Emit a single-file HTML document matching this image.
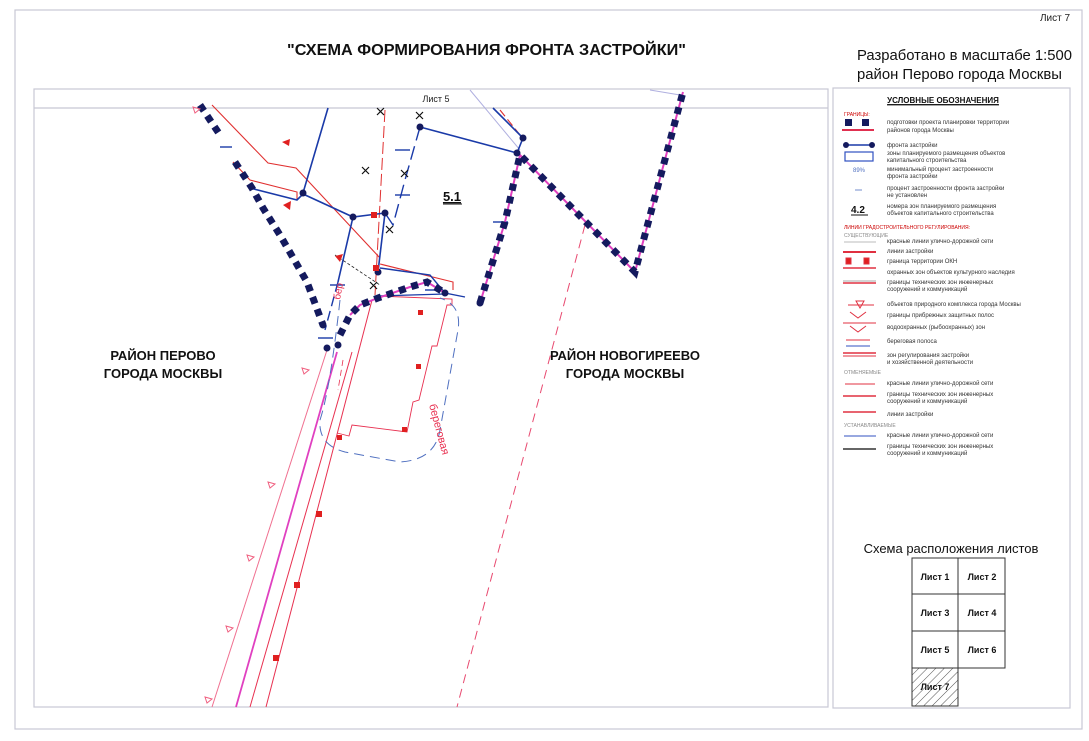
<!DOCTYPE html>
<html><head><meta charset="utf-8"><style>
html,body{margin:0;padding:0;background:#fff}
svg{display:block}
text{font-family:"Liberation Sans",sans-serif}
</style></head><body>
<svg width="1089" height="741" viewBox="0 0 1089 741" xmlns="http://www.w3.org/2000/svg">
<defs>
<pattern id="hatch" width="6" height="6" patternUnits="userSpaceOnUse" patternTransform="rotate(45)">
<line x1="0" y1="0" x2="0" y2="6" stroke="#555" stroke-width="1"/>
</pattern>
</defs>
<rect x="0" y="0" width="1089" height="741" fill="#fff"/>
<!-- outer frame -->
<rect x="15" y="10" width="1067" height="719" fill="none" stroke="#c8c8d4" stroke-width="1.2"/>
<!-- map frame -->
<rect x="34" y="89" width="794" height="618" fill="none" stroke="#c8c8d4" stroke-width="1.2"/>
<line x1="34" y1="108" x2="828" y2="108" stroke="#c8c8d4" stroke-width="1.2"/>
<!-- legend frame -->
<rect x="833" y="88" width="237" height="620" fill="none" stroke="#c8c8d4" stroke-width="1.2"/>

<text x="1055" y="21" font-size="10" text-anchor="middle" fill="#222">Лист 7</text>
<text x="287" y="55" font-size="16" font-weight="bold" textLength="399" lengthAdjust="spacingAndGlyphs" fill="#111">"СХЕМА ФОРМИРОВАНИЯ ФРОНТА ЗАСТРОЙКИ"</text>
<text x="857" y="60" font-size="15" textLength="215" lengthAdjust="spacingAndGlyphs" fill="#111">Разработано в масштабе 1:500</text>
<text x="857" y="79" font-size="15" textLength="205" lengthAdjust="spacingAndGlyphs" fill="#111">район Перово города Москвы</text>
<text x="436" y="102" font-size="9" text-anchor="middle" fill="#222">Лист 5</text>

<!-- MAP -->
<g fill="none">
<!-- pink road lines down-left -->
<line x1="327" y1="350" x2="212" y2="707" stroke="#f07090" stroke-width="1"/>
<line x1="337" y1="352" x2="236" y2="707" stroke="#e040c0" stroke-width="1.8"/>
<line x1="352" y1="352" x2="250" y2="707" stroke="#e83050" stroke-width="1"/>
<line x1="372" y1="300" x2="266" y2="707" stroke="#e83050" stroke-width="1"/>
<line x1="343" y1="360" x2="338" y2="390" stroke="#e83050" stroke-width="0.8" stroke-dasharray="6 4"/>
<!-- pink dashed right -->
<line x1="585" y1="225" x2="457" y2="707" stroke="#e84a70" stroke-width="1" stroke-dasharray="9 6"/>
<line x1="470" y1="90" x2="520" y2="150" stroke="#b0b0e0" stroke-width="1"/>
<line x1="650" y1="90" x2="680" y2="95" stroke="#b0b0e0" stroke-width="1"/>

<!-- building outline -->
<path d="M378,296 L452,299 L452,305 L447,305 L437,346 L432,346 L419,400 L413,402 L407,432 L352,425 L349,436 L337,433" stroke="#e83050" stroke-width="0.9"/>
<!-- blue dashed rounded contour -->
<path d="M340,300 Q330,390 320,420 Q318,445 345,452 L400,462 Q435,460 440,430 L458,330 Q462,305 440,298" stroke="#5070c0" stroke-width="1" stroke-dasharray="10 6"/>

<!-- red lines upper -->
<path d="M212,105 L268,163 L296,168 L380,258" stroke="#e03030" stroke-width="1.1"/>
<path d="M380,264 L453,282 L453,290" stroke="#e03030" stroke-width="1.1"/>
<path d="M233,162 L250,180 L297,192 L297,199" stroke="#e03030" stroke-width="1.1"/>
<path d="M500,110 L520,135" stroke="#e03030" stroke-width="1.1" stroke-dasharray="8 4"/>
<line x1="385" y1="110" x2="375" y2="295" stroke="#e03030" stroke-width="1" stroke-dasharray="12 4"/>

<!-- blue lines -->
<path d="M328,108 L303,193" stroke="#1a3aa8" stroke-width="1.6"/>
<path d="M250,188 L297,200 L303,194 L353,217 L385,213" stroke="#1a3aa8" stroke-width="1.6"/>
<path d="M353,217 L338,282" stroke="#1a3aa8" stroke-width="1.6"/>
<path d="M385,213 L378,272" stroke="#1a3aa8" stroke-width="1.6"/>
<path d="M420,127 L517,153 L523,138 L493,108" stroke="#1a3aa8" stroke-width="1.6"/>
<path d="M420,127 L405,180 L393,225 L385,213" stroke="#1a3aa8" stroke-width="1.4" stroke-dasharray="14 6"/>
<path d="M380,268 L430,275 L445,293 L465,297" stroke="#1a3aa8" stroke-width="1.4"/>
<path d="M378,296 L445,294" stroke="#1a3aa8" stroke-width="1.2"/>
<path d="M338,282 L325,330" stroke="#1a3aa8" stroke-width="1.4" stroke-dasharray="10 5"/>
<line x1="220" y1="147" x2="232" y2="147" stroke="#1a3aa8" stroke-width="1.4"/>
<line x1="330" y1="285" x2="345" y2="285" stroke="#1a3aa8" stroke-width="1.4"/>
<line x1="318" y1="338" x2="333" y2="338" stroke="#1a3aa8" stroke-width="1.4"/>
<line x1="493" y1="222" x2="508" y2="222" stroke="#1a3aa8" stroke-width="1.4"/>
<line x1="395" y1="195" x2="410" y2="195" stroke="#1a3aa8" stroke-width="1.4"/>
<line x1="395" y1="150" x2="410" y2="150" stroke="#1a3aa8" stroke-width="1.4"/>
<line x1="425" y1="290" x2="440" y2="290" stroke="#1a3aa8" stroke-width="1.4"/>
<line x1="335" y1="255" x2="380" y2="285" stroke="#222" stroke-width="0.8" stroke-dasharray="3 2"/>

<!-- pink under dotted -->
<path d="M350,315 L360,305 L378,298 L410,287 L427,282 L445,293" stroke="#e040c0" stroke-width="2"/>
<path d="M480,303 L505,222 L520,155 L635,272 L683,92" stroke="#e040c0" stroke-width="2"/>
<!-- navy thick dotted -->
<g stroke="#141a5e" stroke-width="7" stroke-dasharray="7 6">
<path d="M200,105 L220,135"/>
<path d="M235,162 L252,188 L263,208 L280,235 L307,282 L323,325"/>
<path d="M340,335 L350,315 L360,305 L378,298 L410,287 L427,282 L445,293"/>
<path d="M480,303 L505,222 L520,155 L635,272 L683,92"/>
</g>
<!-- node dots -->
<g fill="#141a5e">
<circle cx="303" cy="193" r="3.5"/><circle cx="353" cy="217" r="3.5"/><circle cx="385" cy="213" r="3.5"/>
<circle cx="420" cy="127" r="3.5"/><circle cx="517" cy="153" r="3.5"/><circle cx="523" cy="138" r="3.5"/>
<circle cx="480" cy="303" r="3.5"/><circle cx="378" cy="272" r="3.5"/><circle cx="327" cy="348" r="3.5"/>
<circle cx="323" cy="325" r="3.5"/><circle cx="445" cy="293" r="3.5"/><circle cx="338" cy="345" r="3.5"/>
</g>
<!-- X marks -->
<g stroke="#111" stroke-width="1.2">
<path d="M377,108 l7,7 m0,-7 l-7,7"/><path d="M416,112 l7,7 m0,-7 l-7,7"/>
<path d="M362,167 l7,7 m0,-7 l-7,7"/><path d="M401,170 l7,7 m0,-7 l-7,7"/>
<path d="M386,226 l7,7 m0,-7 l-7,7"/><path d="M370,282 l7,7 m0,-7 l-7,7"/>
</g>
<!-- red marks -->
<g fill="#e02020">
<polygon points="283,205 291,201 290,210"/><polygon points="282,142 290,139 289,146"/>
<polygon points="335,256 343,254 340,262"/>
<rect x="371" y="212" width="6" height="6"/><rect x="373" y="265" width="6" height="6"/>
<rect x="418" y="310" width="5" height="5"/><rect x="416" y="364" width="5" height="5"/>
<rect x="402" y="427" width="5" height="5"/><rect x="337" y="435" width="5" height="5"/>
<rect x="316" y="511" width="6" height="6"/><rect x="294" y="582" width="6" height="6"/><rect x="273" y="655" width="6" height="6"/>
</g>
<g fill="none" stroke="#f06080" stroke-width="1">
<polygon points="268,482 275,484 270,488"/><polygon points="247,555 254,557 249,561"/>
<polygon points="226,626 233,628 228,632"/><polygon points="205,697 212,699 207,703"/>
<polygon points="302,368 309,370 304,374"/><polygon points="193,107 200,109 195,113"/>
</g>
</g>
<text x="429" y="405" font-size="11" fill="#e83050" transform="rotate(75 429 405)">береговая</text>
<text x="340" y="300" font-size="10" fill="#e83050" transform="rotate(-80 340 300)">бер</text>

<text x="452" y="201" font-size="13" font-weight="bold" text-anchor="middle" fill="#111" text-decoration="underline">5.1</text>
<line x1="443" y1="204" x2="462" y2="204" stroke="#111" stroke-width="1"/>
<g font-size="13" font-weight="bold" text-anchor="middle" fill="#111">
<text x="163" y="360">РАЙОН ПЕРОВО</text>
<text x="163" y="378">ГОРОДА МОСКВЫ</text>
<text x="625" y="360">РАЙОН НОВОГИРЕЕВО</text>
<text x="625" y="378">ГОРОДА МОСКВЫ</text>
</g>

<!-- LEGEND -->
<text x="943" y="103" font-size="8" font-weight="bold" text-anchor="middle" fill="#111" text-decoration="underline">УСЛОВНЫЕ ОБОЗНАЧЕНИЯ</text>
<line x1="887" y1="105" x2="999" y2="105" stroke="#111" stroke-width="0.7"/>
<g font-size="6" fill="#333">
<text x="844" y="116" fill="#c00" font-size="5">ГРАНИЦЫ:</text>
<rect x="845" y="119" width="7" height="7" fill="#141a5e"/><rect x="862" y="119" width="7" height="7" fill="#141a5e"/>
<line x1="842" y1="130" x2="874" y2="130" stroke="#e03050" stroke-width="2"/>
<text x="887" y="124">подготовки проекта планировки территории</text>
<text x="887" y="132">районов города Москвы</text>
<line x1="846" y1="145" x2="872" y2="145" stroke="#1a3aa8" stroke-width="1.5"/>
<circle cx="846" cy="145" r="3" fill="#141a5e"/><circle cx="872" cy="145" r="3" fill="#141a5e"/>
<text x="887" y="147">фронта застройки</text>
<rect x="845" y="152" width="28" height="9" fill="none" stroke="#3050c0" stroke-width="1.2"/>
<text x="887" y="155">зоны планируемого размещения объектов</text>
<text x="887" y="162">капитального строительства</text>
<text x="853" y="172" fill="#5070c0">89%</text>
<text x="887" y="171">минимальный процент застроенности</text>
<text x="887" y="178">фронта застройки</text>
<line x1="855" y1="190" x2="862" y2="190" stroke="#5070c0" stroke-width="0.8"/>
<text x="887" y="190">процент застроенности фронта застройки</text>
<text x="887" y="197">не установлен</text>
<text x="851" y="213" font-size="10" font-weight="bold" fill="#111">4.2</text>
<line x1="851" y1="215" x2="868" y2="215" stroke="#111" stroke-width="1"/>
<text x="887" y="208">номера зон планируемого размещения</text>
<text x="887" y="215">объектов капитального строительства</text>
<text x="844" y="229" font-size="5" fill="#c00">ЛИНИИ ГРАДОСТРОИТЕЛЬНОГО РЕГУЛИРОВАНИЯ:</text>
<text x="844" y="237" font-size="5" fill="#888">СУЩЕСТВУЮЩИЕ</text>
<text x="887" y="243">красные линии улично-дорожной сети</text>
<text x="887" y="253">линии застройки</text>
<text x="887" y="263">граница территории ОКН</text>
<text x="887" y="274">охранных зон объектов культурного наследия</text>
<text x="887" y="284">границы технических зон инженерных</text>
<text x="887" y="291">сооружений и коммуникаций</text>
<text x="887" y="306">объектов природного комплекса города Москвы</text>
<text x="887" y="317">границы прибрежных защитных полос</text>
<text x="887" y="329">водоохранных (рыбоохранных) зон</text>
<text x="887" y="343">береговая полоса</text>
<text x="887" y="357">зон регулирования застройки</text>
<text x="887" y="364">и хозяйственной деятельности</text>
<text x="844" y="374" font-size="5" fill="#888">ОТМЕНЯЕМЫЕ</text>
<text x="887" y="385">красные линии улично-дорожной сети</text>
<text x="887" y="396">границы технических зон инженерных</text>
<text x="887" y="403">сооружений и коммуникаций</text>
<text x="887" y="416">линии застройки</text>
<text x="844" y="427" font-size="5" fill="#888">УСТАНАВЛИВАЕМЫЕ</text>
<text x="887" y="437">красные линии улично-дорожной сети</text>
<text x="887" y="448">границы технических зон инженерных</text>
<text x="887" y="455">сооружений и коммуникаций</text>
</g>
<g stroke="#e03040" stroke-width="1" fill="none">
<line x1="844" y1="242" x2="876" y2="242" stroke="#bbb"/>
<line x1="843" y1="252" x2="876" y2="252" stroke-width="2"/>
<rect x="846" y="258" width="5" height="6" fill="#e02020"/><rect x="864" y="258" width="5" height="6" fill="#e02020"/>
<line x1="843" y1="268" x2="876" y2="268" stroke-width="1.5"/>
<line x1="843" y1="281" x2="876" y2="281" stroke="#aaa"/>
<line x1="843" y1="283" x2="876" y2="283" stroke-width="1.5"/>
<line x1="848" y1="305" x2="874" y2="305"/><polygon points="856,301 864,301 860,308"/>
<polyline points="850,312 858,318 866,312"/>
<line x1="843" y1="323" x2="876" y2="323"/><polyline points="850,326 858,332 866,326"/>
<line x1="846" y1="340" x2="870" y2="340"/><line x1="846" y1="346" x2="870" y2="346" stroke="#3050c0"/>
<line x1="843" y1="353" x2="876" y2="353" stroke-width="1.5"/><line x1="843" y1="356" x2="876" y2="356"/>
<line x1="845" y1="384" x2="875" y2="384"/>
<line x1="843" y1="396" x2="876" y2="396" stroke-width="1.5"/>
<line x1="843" y1="412" x2="876" y2="412" stroke-width="1.5"/>
<line x1="844" y1="436" x2="876" y2="436" stroke="#3050c0"/>
<line x1="843" y1="449" x2="876" y2="449" stroke="#333" stroke-width="1.5"/>
</g>

<!-- sheet scheme -->
<text x="951" y="553" font-size="13" text-anchor="middle" fill="#111">Схема расположения листов</text>
<rect x="912" y="668" width="46" height="38" fill="url(#hatch)"/>
<g stroke="#333" stroke-width="1" fill="none">
<rect x="912" y="558" width="93" height="110"/>
<line x1="958" y1="558" x2="958" y2="668"/>
<line x1="912" y1="594" x2="1005" y2="594"/>
<line x1="912" y1="631" x2="1005" y2="631"/>
<rect x="912" y="668" width="46" height="38"/>
</g>
<g font-size="9" font-weight="bold" text-anchor="middle" fill="#111">
<text x="935" y="580">Лист 1</text><text x="982" y="580">Лист 2</text>
<text x="935" y="616">Лист 3</text><text x="982" y="616">Лист 4</text>
<text x="935" y="653">Лист 5</text><text x="982" y="653">Лист 6</text>
<text x="935" y="690">Лист 7</text>
</g>
</svg>
</body></html>
